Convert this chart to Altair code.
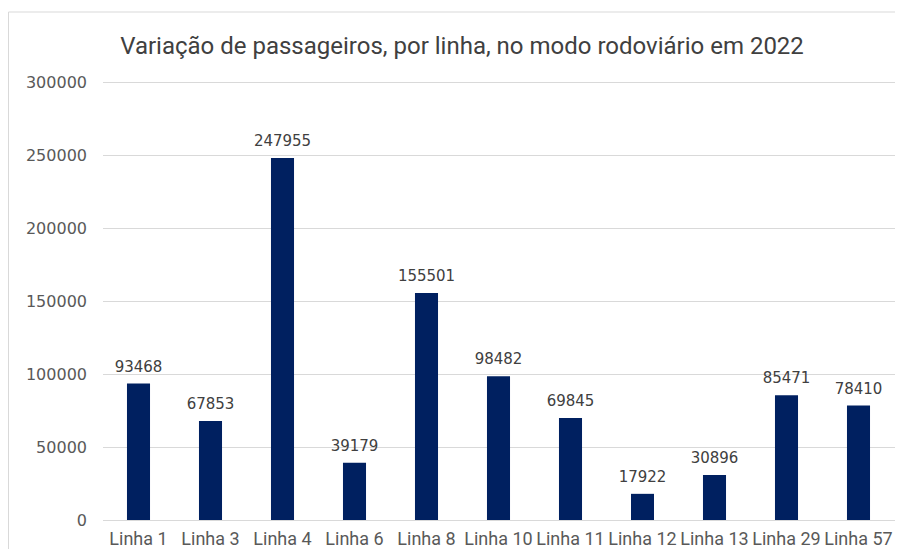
import altair as alt
import pandas as pd

linhas = ["Linha 1", "Linha 3", "Linha 4", "Linha 6", "Linha 8", "Linha 10",
          "Linha 11", "Linha 12", "Linha 13", "Linha 29", "Linha 57"]
passageiros = [93468, 67853, 247955, 39179, 155501, 98482,
               69845, 17922, 30896, 85471, 78410]
y_ticks = [0, 50000, 100000, 150000, 200000, 250000, 300000]
titulo = "Variação de passageiros, por linha, no modo rodoviário em 2022"

df = pd.DataFrame({"linha": linhas, "valor": passageiros})

x_enc = alt.X("linha:N", sort=linhas, title=None,
              scale=alt.Scale(paddingInner=0.68, paddingOuter=0.34),
              axis=alt.Axis(labelAngle=0, labelFont="Roboto",
                            labelFontSize=18, labelColor="#595959",
                            labelPadding=10, ticks=False, domain=True,
                            domainColor="#d9d9d9", grid=False))
y_enc = alt.Y("valor:Q", title=None,
              scale=alt.Scale(domain=[0, 300000], nice=False),
              axis=alt.Axis(values=y_ticks, format="d", labelFont="DejaVu Sans",
                            labelFontSize=16, labelColor="#595959",
                            labelPadding=16, ticks=False, domain=False,
                            gridColor="#d9d9d9", gridWidth=1))

bars = alt.Chart(df).mark_bar(color="#002060").encode(x=x_enc, y=y_enc)
labels = alt.Chart(df).mark_text(
    baseline="bottom", dy=-9, font="DejaVu Sans", fontSize=15, color="#404040"
).encode(x=alt.X("linha:N", sort=linhas), y="valor:Q", text=alt.Text("valor:Q", format="d"))

one = alt.Data(values=[{"t": titulo}])
frame = alt.Chart(one).mark_rect(
    filled=False, stroke="#d9d9d9", strokeWidth=1
).encode(x=alt.value(-94), x2=alt.value(1000), y=alt.value(-70), y2=alt.value(700))

title_mark = alt.Chart(one).mark_text(
    font="Roboto", fontSize=24, color="#404040",
    align="center", baseline="alphabetic"
).encode(x=alt.value(359.5), y=alt.value(-28), text="t:N")

chart = alt.layer(frame, bars, labels, title_mark).properties(
    width=792, height=438,
    padding={"left": 94.5, "top": 74, "right": 0.5, "bottom": 29},
    autosize=alt.AutoSizeParams(type="none"),
).configure_view(stroke=None)

chart.save("out.html", embed_options={"renderer": "svg", "actions": False})
